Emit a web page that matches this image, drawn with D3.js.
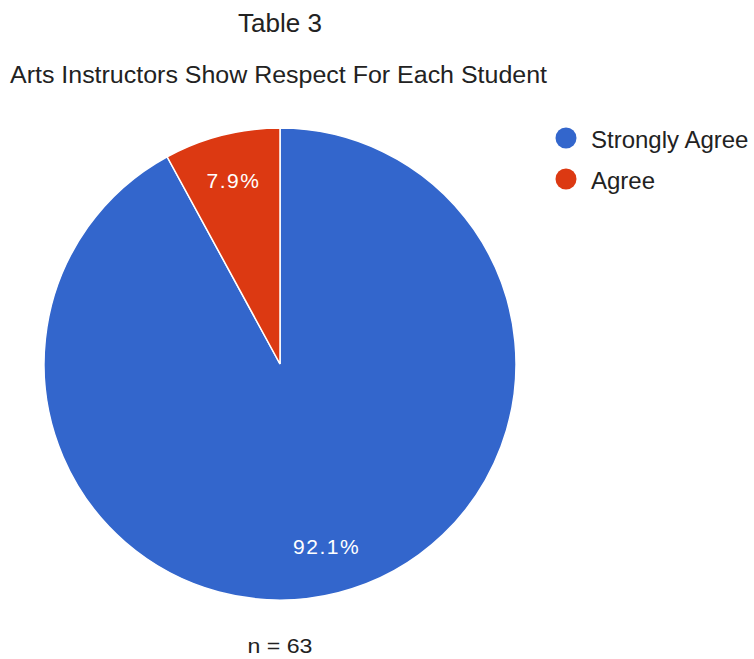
<!DOCTYPE html>
<html>
<head>
<meta charset="utf-8">
<script src="https://cdn.jsdelivr.net/npm/d3@7"></script>
<style>
  html, body { margin: 0; padding: 0; background: #fff; }
  svg { display: block; font-family: "Liberation Sans", Arial, sans-serif; }
</style>
</head>
<body>
<svg id="chart" width="754" height="659"></svg>
<script>
// Survey responses (n = 63)
const categories = ["Strongly Agree", "Agree"];
const counts = [58, 5];
const percentLabels = ["92.1%", "7.9%"];
const colors = ["#3366cc", "#dc3912"];

const svg = d3.select("#chart");
const cx = 280, cy = 364, radius = 236;

// Titles
svg.append("text").attr("x", 280).attr("y", 32)
  .attr("text-anchor", "middle").attr("font-size", 25).attr("fill", "#222")
  .attr("textLength", 84).attr("lengthAdjust", "spacingAndGlyphs")
  .text("Table 3");
svg.append("text").attr("x", 10).attr("y", 83)
  .attr("font-size", 23).attr("fill", "#222")
  .attr("textLength", 537).attr("lengthAdjust", "spacingAndGlyphs")
  .text("Arts Instructors Show Respect For Each Student");

// Pie
const pie = d3.pie().sort(null).value(d => d)(counts);
const arc = d3.arc().innerRadius(0).outerRadius(radius);
const g = svg.append("g").attr("transform", `translate(${cx},${cy})`);
g.selectAll("path").data(pie).join("path")
  .attr("d", arc)
  .attr("fill", (d, i) => colors[i])
  .attr("stroke", "#fff").attr("stroke-width", 1.5);

// Slice labels
const labelArc = d3.arc().innerRadius(radius * 0.8).outerRadius(radius * 0.8);
g.selectAll("text.slice").data(pie).join("text")
  .attr("class", "slice")
  .attr("transform", d => {
    const [x, y] = labelArc.centroid(d);
    return `translate(${x},${y})`;
  })
  .attr("text-anchor", "middle").attr("dy", "0.35em")
  .attr("font-size", 21).attr("fill", "#fff").attr("letter-spacing", 1.5)
  .text((d, i) => percentLabels[i]);

// Legend
const legend = svg.append("g");
categories.forEach((c, i) => {
  const y = 138 + i * 41;
  legend.append("circle").attr("cx", 566).attr("cy", y).attr("r", 10.5).attr("fill", colors[i]);
  legend.append("text").attr("x", 591).attr("y", y + 10)
    .attr("font-size", 24).attr("fill", "#222").text(c);
});

// Sample size note
svg.append("text").attr("x", 280).attr("y", 653)
  .attr("text-anchor", "middle").attr("font-size", 21).attr("fill", "#222")
  .attr("textLength", 65).attr("lengthAdjust", "spacingAndGlyphs")
  .text("n = 63");
</script>
</body>
</html>
